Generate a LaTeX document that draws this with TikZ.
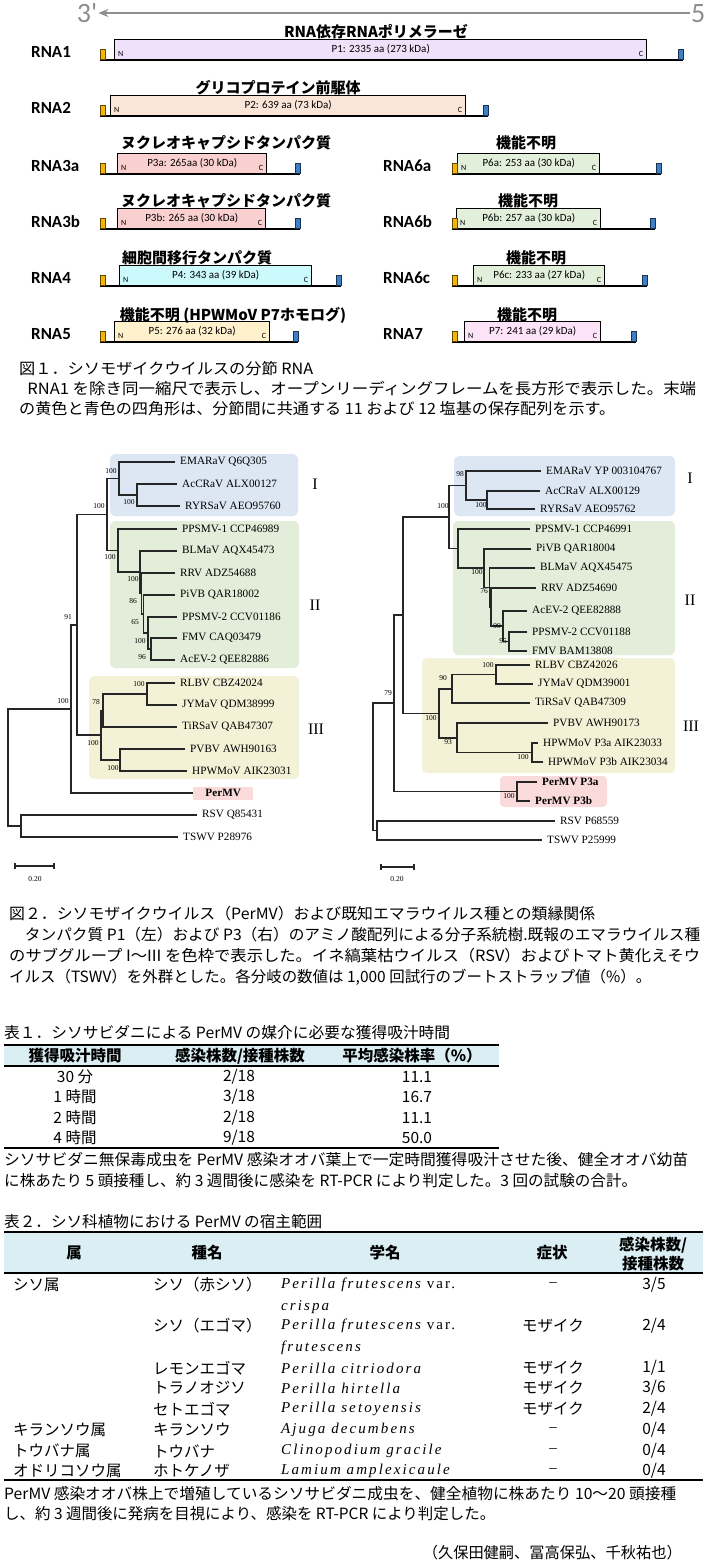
\documentclass[tikz,border=0pt]{standalone}
\usepackage{graphicx}
\usepackage{fontspec}
\setmainfont{Liberation Serif}
\newfontfamily\cjk{Noto Sans CJK JP}
\newfontfamily\carl{Carlito}
\newfontfamily\sciF[LetterSpace=14]{Liberation Serif}
\usetikzlibrary{arrows.meta}
\definecolor{cP1}{HTML}{EFE1F9}
\definecolor{cP2}{HTML}{FBE5D8}
\definecolor{cP3}{HTML}{F9CFCF}
\definecolor{cP4}{HTML}{CCFAFC}
\definecolor{cP5}{HTML}{FFF1CC}
\definecolor{cP6}{HTML}{E2EFDA}
\definecolor{cP7}{HTML}{FCE3F7}
\definecolor{cY}{HTML}{F2B705}
\definecolor{cB}{HTML}{3F7FC4}
\definecolor{gI}{HTML}{DCE7F3}
\definecolor{gII}{HTML}{E2EED9}
\definecolor{gIII}{HTML}{F4F2D6}
\definecolor{gPer}{HTML}{FADADB}
\definecolor{hdr}{HTML}{DAEEF3}
\definecolor{cArr}{HTML}{8E8E8E}
\newcommand\jw[2]{\resizebox{#1pt}{\height}{#2}}
\tikzset{
 orf/.style={draw=black, line width=1.4pt, inner sep=0pt, anchor=south west, minimum height=20pt, font=\carl\fontsize{11}{13}\selectfont},
 nc/.style={font=\carl\fontsize{8}{9}\selectfont, inner sep=0pt},
 rnaline/.style={line width=2.4pt, draw=black},
 ttl/.style={font=\cjk\bfseries\fontsize{15}{17}\selectfont, inner sep=0pt},
 rlab/.style={font=\carl\bfseries\fontsize{17}{20}\selectfont, anchor=west, inner sep=0pt},
 ysqr/.style={fill=cY, draw=black!60!cY, line width=0.4pt},
 bsqr/.style={fill=cB, draw=black!60!cB, line width=0.4pt},
 leaf/.style={font=\fontsize{11.2}{13}\selectfont, anchor=west, inner xsep=5pt, inner ysep=1pt},
 br/.style={line width=1.2pt, draw=black!85},
 bs/.style={font=\fontsize{7.5}{9}\selectfont, inner sep=0pt},
 grp/.style={font=\fontsize{16}{18}\selectfont, inner sep=0pt},
 captxt/.style={font=\cjk\fontsize{15.5}{18}\selectfont, anchor=west, inner sep=0pt},
 cell/.style={font=\cjk\fontsize{15.5}{18}\selectfont, inner sep=0pt},
 dashcell/.style={font=\fontsize{15}{17}\selectfont, inner sep=0pt},
 hcell/.style={font=\cjk\bfseries\fontsize{15.5}{18}\selectfont, inner sep=0pt},
 sci/.style={font=\sciF\fontsize{15}{17}\selectfont, anchor=west, inner sep=0pt},
}
\newcommand\seg[8]{%
 \node[orf, fill=#7, minimum width=#6-#5] (#1box) at (#5,#4) {#8};
 \node[nc, anchor=west] (#1N) at ([xshift=4pt,yshift=6pt]#1box.south west) {N};
 \node[nc, anchor=east] (#1C) at ([xshift=-4pt,yshift=6pt]#1box.south east) {C};
 \coordinate (#1L) at (#2,#4);
 \coordinate (#1R) at (#3,#4);
 \draw[rnaline] (#1L) -- (#1R);
 \draw[ysqr] ([yshift=1pt]#1L) rectangle ++(5,-10);
 \draw[bsqr] ([yshift=1pt]#1R) rectangle ++(-5,-10);
}
\begin{document}
\begin{tikzpicture}[x=1pt,y=-1pt]
\useasboundingbox (0,0) rectangle (705,1567);
\fill[white] (0,0) rectangle (705,1567);

% ---------- top arrow ----------
\node[font=\carl\fontsize{28}{30}\selectfont, text=cArr, inner sep=1pt] (p3) at (87,13) {3'};
\node[font=\carl\fontsize{28}{30}\selectfont, text=cArr, inner sep=1pt, anchor=west] (p5) at (690,13) {5'};
\draw[draw=cArr, line width=1.6pt, -{Stealth[length=10pt,width=8pt]}] (p5.west) -- (p3.east);

% ---------- genome segments ----------
\seg{ra}{100}{683}{60}{114}{646}{cP1}{P1: 2335 aa (273 kDa)}
\seg{rb}{100}{488}{116}{110}{465}{cP2}{P2: 639 aa (73 kDa)}
\seg{rc}{100}{300}{174}{117}{266}{cP3}{P3a: 265aa (30 kDa)}
\seg{rd}{452}{661}{174}{457}{599}{cP6}{P6a: 253 aa (30 kDa)}
\seg{re}{100}{300}{229}{117}{265}{cP3}{P3b: 265 aa (30 kDa)}
\seg{rf}{452}{655}{229}{456}{600}{cP6}{P6b: 257 aa (30 kDa)}
\seg{rg}{100}{341}{286}{119}{311}{cP4}{P4: 343 aa (39 kDa)}
\seg{rh}{452}{647}{286}{473}{604}{cP6}{P6c: 233 aa (27 kDa)}
\seg{ri}{100}{298}{342}{114}{269}{cP5}{P5: 276 aa (32 kDa)}
\seg{rj}{452}{636}{342}{464}{600}{cP7}{P7: 241 aa (29 kDa)}

\node[rlab] (la) at (31,52) {RNA1};
\node[rlab] (lb) at (31,108) {RNA2};
\node[rlab] (lc) at (31,166) {RNA3a};
\node[rlab] (ld) at (383,166) {RNA6a};
\node[rlab] (le) at (31,222) {RNA3b};
\node[rlab] (lf) at (383,222) {RNA6b};
\node[rlab] (lg) at (31,278) {RNA4};
\node[rlab] (lh) at (383,278) {RNA6c};
\node[rlab] (li) at (31,334) {RNA5};
\node[rlab] (lj) at (383,334) {RNA7};

\node[ttl] (ha) at (376,32) {RNA依存RNAポリメラーゼ};
\node[ttl] (hb) at (278,88) {グリコプロテイン前駆体};
\node[ttl] (hc) at (226,143) {ヌクレオキャプシドタンパク質};
\node[ttl] (hd) at (526,143) {機能不明};
\node[ttl] (he) at (226,201) {ヌクレオキャプシドタンパク質};
\node[ttl] (hf) at (528,201) {機能不明};
\node[ttl] (hg) at (197,258) {細胞間移行タンパク質};
\node[ttl] (hh) at (536,258) {機能不明};
\node[ttl] (hi) at (233,315) {機能不明 (HPWMoV P7ホモログ)};
\node[ttl] (hj) at (527,315) {機能不明};

\node[captxt] (c1a) at (19,369) {\jw{294}{図１．シソモザイクウイルスの分節 RNA}};
\node[captxt] (c1b) at (19,389) {\jw{677}{\hspace{0.5em}RNA1 を除き同一縮尺で表示し、オープンリーディングフレームを長方形で表示した。末端}};
\node[captxt] (c1c) at (19,409) {\jw{596}{の黄色と青色の四角形は、分節間に共通する 11 および 12 塩基の保存配列を示す。}};

% ---------- left tree ----------
\fill[gI, rounded corners=5pt] (110,454) rectangle (298,516);
\fill[gII, rounded corners=5pt] (110,521) rectangle (299,668);
\fill[gIII, rounded corners=5pt] (89,676) rectangle (299,779);

\node[leaf] (LEMA) at (175,462) {EMARaV Q6Q305};
\node[leaf] (LAcC) at (177,484) {AcCRaV ALX00127};
\node[leaf] (LRYR) at (180,506) {RYRSaV AEO95760};
\node[leaf] (LPPa) at (177,529) {PPSMV-1 CCP46989};
\node[leaf] (LBLM) at (177,551) {BLMaV AQX45473};
\node[leaf] (LRRV) at (175,573) {RRV ADZ54688};
\node[leaf] (LPiV) at (175,595) {PiVB QAR18002};
\node[leaf] (LPPb) at (177,617) {PPSMV-2 CCV01186};
\node[leaf] (LFMV) at (177,638) {FMV CAQ03479};
\node[leaf] (LAcE) at (175,660) {AcEV-2 QEE82886};
\node[leaf] (LRLB) at (175,683) {RLBV CBZ42024};
\node[leaf] (LJYM) at (177,705) {JYMaV QDM38999};
\node[leaf] (LTiR) at (177,727) {TiRSaV QAB47307};
\node[leaf] (LPVB) at (185,749) {PVBV AWH90163};
\node[leaf] (LHPW) at (187,771) {HPWMoV AIK23031};
\node[leaf, fill=gPer, inner xsep=0pt, minimum width=60pt, minimum height=13pt, font=\bfseries\fontsize{11.2}{13}\selectfont] (LPer) at (193,793) {PerMV};
\node[leaf] (LRSV) at (197,815) {RSV Q85431};
\node[leaf] (LTSW) at (178,837) {TSWV P28976};

\coordinate (nIb) at (137,495);
\coordinate (nI) at (119,478.5);
\coordinate (nLf) at (151,649);
\coordinate (nLe) at (148,633);
\coordinate (nLd) at (143.5,614);
\coordinate (nLc) at (141.5,593.5);
\coordinate (nLb) at (140,572);
\coordinate (nII) at (118,550.5);
\coordinate (nIII0) at (107,514.5);
\coordinate (nA) at (147,694);
\coordinate (nS) at (103,710.5);
\coordinate (nB) at (120,760);
\coordinate (nIII) at (101,735);
\coordinate (nN) at (77,625);
\coordinate (nIn) at (71,709);
\coordinate (nOut) at (21,826);
\coordinate (nRoot) at (8,767.5);

\draw[br] (LEMA.west) -| (nI) |- (nIb);
\draw[br] (LAcC.west) -| (nIb) |- (LRYR.west);
\draw[br] (nI) -| (nIII0) |- (nII);
\draw[br] (LPPa.west) -| (nII) |- (nLb);
\draw[br] (LBLM.west) -| (nLb) |- (nLc);
\draw[br] (LRRV.west) -| (nLc) |- (nLd);
\draw[br] (LPiV.west) -| (nLd) |- (nLe);
\draw[br] (LPPb.west) -| (nLe) |- (nLf);
\draw[br] (LFMV.west) -| (nLf) |- (LAcE.west);
\draw[br] (LRLB.west) -| (nA) |- (LJYM.west);
\draw[br] (nA) -| (nS) |- (LTiR.west);
\draw[br] (LPVB.west) -| (nB) |- (LHPW.west);
\draw[br] (nS) -| (nIII) |- (nB);
\draw[br] (nIII0) -| (nN) |- (nIII);
\draw[br] (nN) -| (nIn) |- (LPer.west);
\draw[br] (LRSV.west) -| (nOut) |- (LTSW.west);
\draw[br] (nIn) -| (nRoot) |- (nOut);

\node[bs] (b1) at (99,506) {100};
\node[bs] (b2) at (111,471) {100};
\node[bs] (b3) at (129,502) {100};
\node[bs] (b4) at (110,557) {100};
\node[bs] (b5) at (133,579) {100};
\node[bs] (b6) at (133,601) {86};
\node[bs] (b7) at (135,622) {65};
\node[bs] (b8) at (140,641) {100};
\node[bs] (b9) at (142,657) {96};
\node[bs] (b10) at (139,684) {100};
\node[bs] (b11) at (96,702) {78};
\node[bs] (b12) at (93,743) {100};
\node[bs] (b13) at (113,768) {100};
\node[bs] (b14) at (63,701) {100};
\node[bs] (b15) at (68,617) {91};

\node[grp] (gLa) at (315,484) {I};
\node[grp] (gLb) at (315,605) {II};
\node[grp] (gLc) at (316,729) {III};

\coordinate (sLa) at (15,866);
\coordinate (sLb) at (54,866);
\draw[br] (sLa) -- (sLb);
\draw[br] ([yshift=3pt]sLa) -- ([yshift=-3pt]sLa);
\draw[br] ([yshift=3pt]sLb) -- ([yshift=-3pt]sLb);
\node[bs] (sLt) at (35,879) {0.20};

% ---------- right tree ----------
\fill[gI, rounded corners=5pt] (454,456) rectangle (675,516);
\fill[gII, rounded corners=5pt] (453,521) rectangle (675,655);
\fill[gIII, rounded corners=5pt] (422,658) rectangle (675,773);
\fill[gPer, rounded corners=4pt] (500,776) rectangle (607,807);

\node[leaf] (REMA) at (541,471) {EMARaV YP 003104767};
\node[leaf] (RAcC) at (540,491) {AcCRaV ALX00129};
\node[leaf] (RRYR) at (535,509) {RYRSaV AEO95762};
\node[leaf] (RPPa) at (530,529) {PPSMV-1 CCP46991};
\node[leaf] (RPiV) at (531,549) {PiVB QAR18004};
\node[leaf] (RBLM) at (535,568) {BLMaV AQX45475};
\node[leaf] (RRRV) at (536,588) {RRV ADZ54690};
\node[leaf] (RAcE) at (527,611) {AcEV-2 QEE82888};
\node[leaf] (RPPb) at (527,632) {PPSMV-2 CCV01188};
\node[leaf] (RFMV) at (527,651) {FMV BAM13808};
\node[leaf] (RRLB) at (530,665) {RLBV CBZ42026};
\node[leaf] (RJYM) at (533,684) {JYMaV QDM39001};
\node[leaf] (RTiR) at (530,703) {TiRSaV QAB47309};
\node[leaf] (RPVB) at (548,723) {PVBV AWH90173};
\node[leaf] (RHPa) at (538,743) {HPWMoV P3a AIK23033};
\node[leaf] (RHPb) at (543,762) {HPWMoV P3b AIK23034};
\node[leaf, font=\bfseries\fontsize{11.2}{13}\selectfont] (RPa) at (537,782) {PerMV P3a};
\node[leaf, font=\bfseries\fontsize{11.2}{13}\selectfont] (RPb) at (530,801) {PerMV P3b};
\node[leaf] (RRSV) at (555,821) {RSV P68559};
\node[leaf] (RTSW) at (542,840) {TSWV P25999};

\coordinate (rIb) at (487,500);
\coordinate (rI) at (466,485.5);
\coordinate (rQf) at (509,641.5);
\coordinate (rQe) at (503,626);
\coordinate (rQd) at (491,607);
\coordinate (rQc) at (489.5,587.5);
\coordinate (rQb) at (484,568);
\coordinate (rII) at (458,548.5);
\coordinate (rI0) at (449,517);
\coordinate (rD) at (496,674.5);
\coordinate (rS) at (452,689);
\coordinate (rE) at (532,752.5);
\coordinate (rT) at (457,738);
\coordinate (rIII) at (439,713.5);
\coordinate (rA) at (403,615);
\coordinate (rP) at (517,791.5);
\coordinate (rIn) at (394,703);
\coordinate (rOut) at (377,830.5);
\coordinate (rRoot) at (373,767);

\draw[br] (REMA.west) -| (rI) |- (rIb);
\draw[br] (RAcC.west) -| (rIb) |- (RRYR.west);
\draw[br] (rI) -| (rI0) |- (rII);
\draw[br] (RPPa.west) -| (rII) |- (rQb);
\draw[br] (RPiV.west) -| (rQb) |- (rQc);
\draw[br] (RBLM.west) -| (rQc) |- (rQd);
\draw[br] (RRRV.west) -| (rQd) |- (rQe);
\draw[br] (RAcE.west) -| (rQe) |- (rQf);
\draw[br] (RPPb.west) -| (rQf) |- (RFMV.west);
\draw[br] (RRLB.west) -| (rD) |- (RJYM.west);
\draw[br] (rD) -| (rS) |- (RTiR.west);
\draw[br] (RHPa.west) -| (rE) |- (RHPb.west);
\draw[br] (RPVB.west) -| (rT) |- (rE);
\draw[br] (rS) -| (rIII) |- (rT);
\draw[br] (rI0) -| (rA) |- (rIII);
\draw[br] (RPa.west) -| (rP) |- (RPb.west);
\draw[br] (rA) -| (rIn) |- (rP);
\draw[br] (RRSV.west) -| (rOut) |- (RTSW.west);
\draw[br] (rIn) -| (rRoot) |- (rOut);

\node[bs] (rb1) at (460,474) {98};
\node[bs] (rb2) at (481,505) {100};
\node[bs] (rb3) at (443,506) {100};
\node[bs] (rb4) at (477,572) {100};
\node[bs] (rb5) at (484,591) {76};
\node[bs] (rb6) at (497,626) {99};
\node[bs] (rb7) at (503,641) {95};
\node[bs] (rb8) at (431,718) {100};
\node[bs] (rb9) at (443,678) {90};
\node[bs] (rb10) at (488,665) {100};
\node[bs] (rb11) at (448,742) {93};
\node[bs] (rb12) at (523,757) {100};
\node[bs] (rb13) at (509,796) {100};
\node[bs] (rb14) at (388,693) {79};

\node[grp] (gRa) at (690,478) {I};
\node[grp] (gRb) at (690,600) {II};
\node[grp] (gRc) at (691,726) {III};

\coordinate (sRa) at (381,867);
\coordinate (sRb) at (414,867);
\draw[br] (sRa) -- (sRb);
\draw[br] ([yshift=3pt]sRa) -- ([yshift=-3pt]sRa);
\draw[br] ([yshift=3pt]sRb) -- ([yshift=-3pt]sRb);
\node[bs] (sRt) at (397,879) {0.20};

% ---------- figure 2 caption ----------
\node[captxt] (c2a) at (9,914) {\jw{586}{図２．シソモザイクウイルス（PerMV）および既知エマラウイルス種との類縁関係}};
\node[captxt] (c2b) at (9,935) {\jw{691}{\hspace{1em}タンパク質 P1（左）および P3（右）のアミノ酸配列による分子系統樹.既報のエマラウイルス種}};
\node[captxt] (c2c) at (9,956) {\jw{691}{のサブグループ I～III を色枠で表示した。イネ縞葉枯ウイルス（RSV）およびトマト黄化えそウ}};
\node[captxt] (c2d) at (9,977) {\jw{642}{イルス（TSWV）を外群とした。各分岐の数値は 1,000 回試行のブートストラップ値（\%）。}};

% ---------- table 1 ----------
\node[captxt] (t1t) at (4,1033) {\jw{446}{表１．シソサビダニによる PerMV の媒介に必要な獲得吸汁時間}};
\fill[hdr] (4,1045) rectangle (499,1066);
\draw[line width=1.6pt] (4,1045) -- (499,1045);
\draw[line width=1.1pt] (4,1066) -- (499,1066);
\node[hcell] (t1h1) at (75,1056) {獲得吸汁時間};
\node[hcell] (t1h2) at (240,1056) {感染株数/接種株数};
\node[hcell] (t1h3) at (412,1056) {平均感染株率（\%）};
\node[cell] (t1a1) at (75,1077) {30 分};
\node[cell] (t1a2) at (239,1077) {2/18};
\node[cell] (t1a3) at (417,1077) {11.1};
\node[cell] (t1b1) at (75,1097) {1 時間};
\node[cell] (t1b2) at (239,1097) {3/18};
\node[cell] (t1b3) at (417,1097) {16.7};
\node[cell] (t1c1) at (75,1118) {2 時間};
\node[cell] (t1c2) at (239,1118) {2/18};
\node[cell] (t1c3) at (417,1118) {11.1};
\node[cell] (t1d1) at (75,1138) {4 時間};
\node[cell] (t1d2) at (239,1138) {9/18};
\node[cell] (t1d3) at (417,1138) {50.0};
\draw[line width=1.3pt] (4,1148) -- (499,1148);
\node[captxt] (t1n1) at (4,1160) {\jw{684}{シソサビダニ無保毒成虫を PerMV 感染オオバ葉上で一定時間獲得吸汁させた後、健全オオバ幼苗}};
\node[captxt] (t1n2) at (4,1181) {\jw{633}{に株あたり 5 頭接種し、約 3 週間後に感染を RT-PCR により判定した。3 回の試験の合計。}};

% ---------- table 2 ----------
\node[captxt] (t2t) at (4,1222) {\jw{318}{表２．シソ科植物における PerMV の宿主範囲}};
\fill[hdr] (4,1232) rectangle (703,1273);
\draw[line width=1.6pt] (4,1232) -- (703,1232);
\draw[line width=1.1pt] (4,1273) -- (703,1273);
\node[hcell] (t2h1) at (74,1253) {属};
\node[hcell] (t2h2) at (207,1253) {種名};
\node[hcell] (t2h3) at (385,1253) {学名};
\node[hcell] (t2h4) at (552,1253) {症状};
\node[hcell] (t2h5) at (653,1245) {感染株数/};
\node[hcell] (t2h6) at (653,1264) {接種株数};

\node[cell, anchor=west] (g1) at (13,1285) {シソ属};
\node[cell, anchor=west] (s1) at (153,1285) {シソ（赤シソ）};
\node[sci] (k1) at (281,1285) {\itshape Perilla frutescens\upshape{} var.};
\node[sci] (k1b) at (281,1307) {\itshape crispa};
\node[dashcell] (y1) at (553,1285) {–};
\node[cell] (q1) at (654,1285) {3/5};

\node[cell, anchor=west] (s2) at (153,1326) {シソ（エゴマ）};
\node[sci] (k2) at (281,1326) {\itshape Perilla frutescens\upshape{} var.};
\node[sci] (k2b) at (281,1348) {\itshape frutescens};
\node[cell] (y2) at (553,1326) {モザイク};
\node[cell] (q2) at (654,1326) {2/4};

\node[cell, anchor=west] (s3) at (153,1368) {レモンエゴマ};
\node[sci] (k3) at (281,1368) {\itshape Perilla citriodora};
\node[cell] (y3) at (553,1368) {モザイク};
\node[cell] (q3) at (654,1368) {1/1};

\node[cell, anchor=west] (s4) at (153,1388) {トラノオジソ};
\node[sci] (k4) at (281,1388) {\itshape Perilla hirtella};
\node[cell] (y4) at (553,1388) {モザイク};
\node[cell] (q4) at (654,1388) {3/6};

\node[cell, anchor=west] (s5) at (153,1409) {セトエゴマ};
\node[sci] (k5) at (281,1409) {\itshape Perilla setoyensis};
\node[cell] (y5) at (553,1409) {モザイク};
\node[cell] (q5) at (654,1409) {2/4};

\node[cell, anchor=west] (g6) at (13,1430) {キランソウ属};
\node[cell, anchor=west] (s6) at (153,1430) {キランソウ};
\node[sci] (k6) at (281,1430) {\itshape Ajuga decumbens};
\node[dashcell] (y6) at (553,1430) {–};
\node[cell] (q6) at (654,1430) {0/4};

\node[cell, anchor=west] (g7) at (13,1451) {トウバナ属};
\node[cell, anchor=west] (s7) at (153,1451) {トウバナ};
\node[sci] (k7) at (281,1451) {\itshape Clinopodium gracile};
\node[dashcell] (y7) at (553,1451) {–};
\node[cell] (q7) at (654,1451) {0/4};

\node[cell, anchor=west] (g8) at (13,1471) {オドリコソウ属};
\node[cell, anchor=west] (s8) at (153,1471) {ホトケノザ};
\node[sci] (k8) at (281,1471) {\itshape Lamium amplexicaule};
\node[dashcell] (y8) at (553,1471) {–};
\node[cell] (q8) at (654,1471) {0/4};

\draw[line width=1.3pt] (4,1480) -- (703,1480);
\node[captxt] (t2n1) at (4,1494) {\jw{672}{PerMV 感染オオバ株上で増殖しているシソサビダニ成虫を、健全植物に株あたり 10～20 頭接種}};
\node[captxt] (t2n2) at (4,1514) {\jw{491}{し、約 3 週間後に発病を目視により、感染を RT-PCR により判定した。}};
\node[captxt, anchor=east] (au) at (682,1553) {\jw{259}{（久保田健嗣、冨高保弘、千秋祐也）}};
\end{tikzpicture}
\end{document}
